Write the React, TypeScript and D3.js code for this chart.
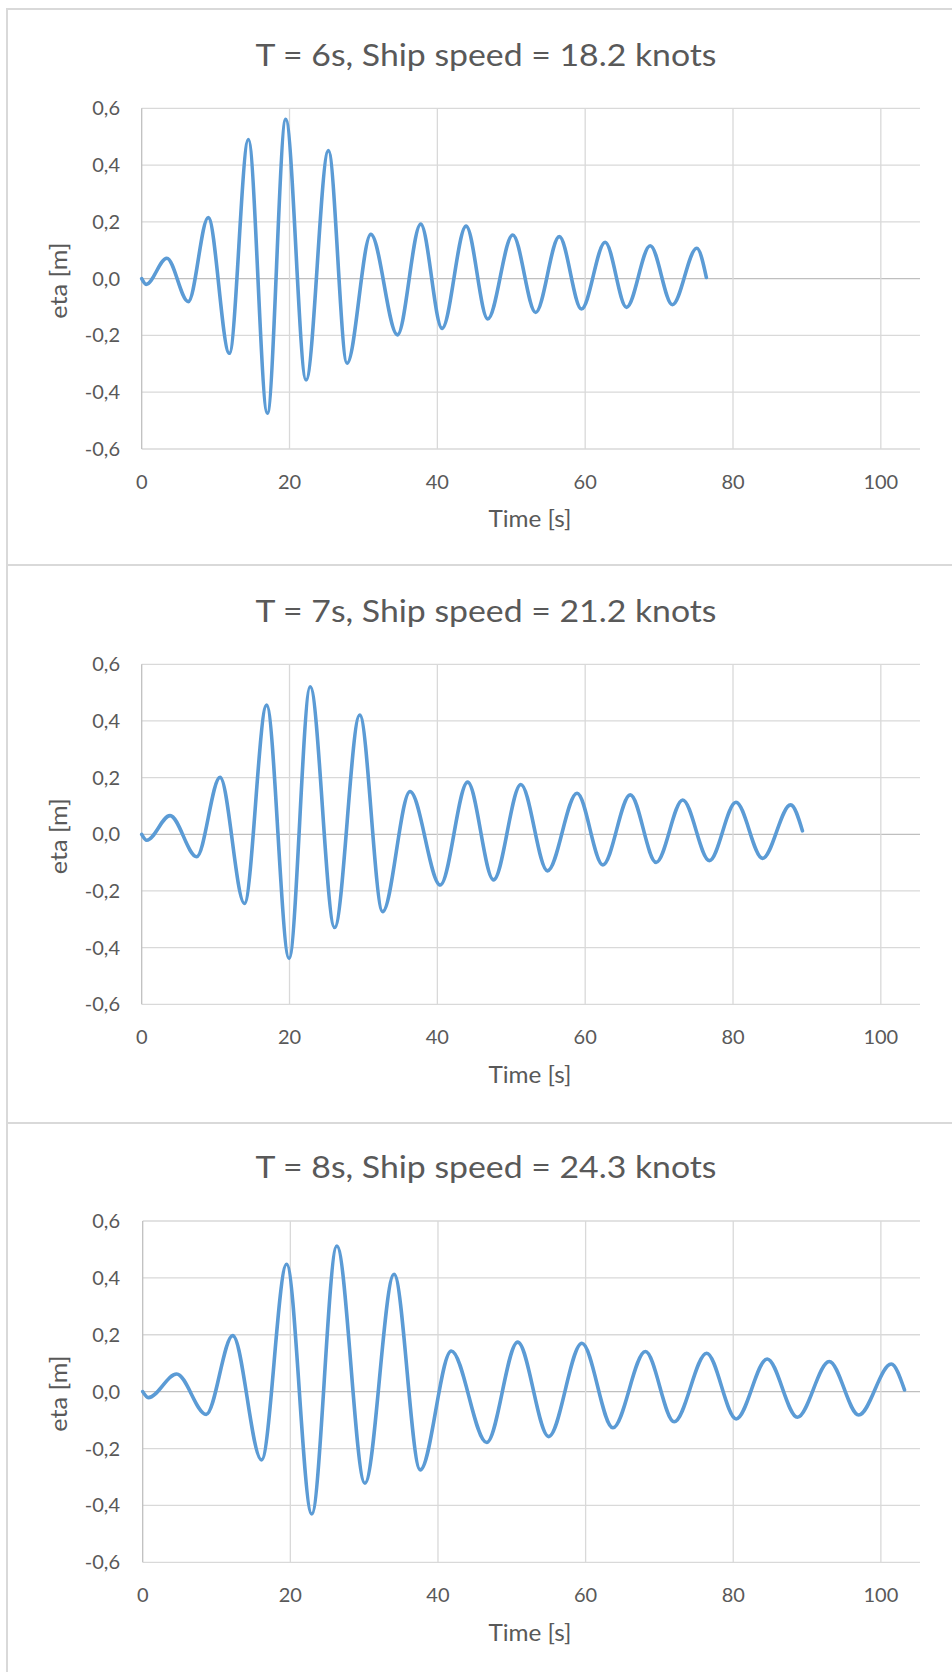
import React from 'react';
import * as d3 from 'd3';

// ---- data ----
const titles = [
  'T = 6s, Ship speed = 18.2 knots',
  'T = 7s, Ship speed = 21.2 knots',
  'T = 8s, Ship speed = 24.3 knots',
];

const time6 = [0, 0.6, 3.4, 6.3, 9.0, 11.86, 14.43, 17.0, 19.49, 22.24, 25.26, 27.78, 31.0, 34.6, 37.75, 40.64, 43.89, 46.82, 50.2, 53.3, 56.5, 59.5, 62.7, 65.6, 68.8, 71.8, 75.1, 76.4];
const eta6 = [0, -0.02, 0.072, -0.081, 0.215, -0.263, 0.49, -0.474, 0.561, -0.357, 0.451, -0.298, 0.156, -0.198, 0.192, -0.175, 0.185, -0.142, 0.154, -0.119, 0.148, -0.107, 0.128, -0.101, 0.116, -0.092, 0.107, 0.004];

const time7 = [0, 0.68, 3.83, 7.44, 10.6, 13.9, 16.9, 19.94, 22.8, 26.1, 29.5, 32.6, 36.3, 40.4, 44.1, 47.6, 51.3, 54.9, 58.9, 62.4, 66.1, 69.6, 73.2, 76.8, 80.4, 84.0, 87.8, 89.4];
const eta7 = [0, -0.021, 0.066, -0.079, 0.201, -0.244, 0.456, -0.438, 0.521, -0.329, 0.421, -0.273, 0.151, -0.179, 0.184, -0.161, 0.176, -0.129, 0.145, -0.108, 0.139, -0.099, 0.121, -0.093, 0.113, -0.085, 0.104, 0.012];

const time8 = [0, 0.76, 4.6, 8.6, 12.2, 16.1, 19.5, 22.9, 26.3, 30.1, 34.05, 37.6, 41.8, 46.6, 50.8, 55.0, 59.5, 63.7, 68.1, 72.0, 76.4, 80.4, 84.6, 88.7, 93.0, 97.0, 101.4, 103.2];
const eta8 = [0, -0.021, 0.062, -0.08, 0.197, -0.24, 0.448, -0.43, 0.512, -0.322, 0.413, -0.275, 0.143, -0.179, 0.174, -0.158, 0.17, -0.127, 0.141, -0.106, 0.135, -0.096, 0.115, -0.09, 0.106, -0.082, 0.097, 0.006];

const xTicks = [0, 20, 40, 60, 80, 100];
const yTicks = [-0.6, -0.4, -0.2, 0, 0.2, 0.4, 0.6];
const xAxisTitle = 'Time [s]';
const yAxisTitle = 'eta [m]';
const xDomain = [0, 105.3];
const yDomain = [-0.6, 0.6];

// ---- layout ----
const W = 952;
const H = 1672;
const layouts = [
  { top: 9, bottom: 565, plotTop: 108.3, plotBottom: 449, plotLeft: 141.7 },
  { top: 565, bottom: 1123, plotTop: 664.3, plotBottom: 1004.3, plotLeft: 141.7 },
  { top: 1123, bottom: 1690, plotTop: 1221, plotBottom: 1562.3, plotLeft: 142.7 },
];
const plotRight = 920;

const FONT = "Lato, 'Open Sans', 'Noto Sans', sans-serif";
const TEXT = '#595959';
const GRID = '#D9D9D9';
const AXIS = '#BFBFBF';
const LINE = '#5B9BD5';

const locale = d3.formatLocale({ decimal: ',', thousands: '.', grouping: [3], currency: ['', ''], minus: '-' });
const fmtY = locale.format('.1f');

function Panel({ idx, times, etas }: { idx: number; times: number[]; etas: number[] }) {
  const L = layouts[idx];
  const x = d3.scaleLinear().domain(xDomain).range([L.plotLeft, plotRight]);
  const y = d3.scaleLinear().domain(yDomain).range([L.plotBottom, L.plotTop]);
  const pts = times.map((t, i) => [t, etas[i]] as [number, number]);
  const line = d3
    .line<[number, number]>()
    .x((d) => x(d[0]))
    .y((d) => y(d[1]))
    .curve(d3.curveMonotoneX);
  const midY = (L.plotTop + L.plotBottom) / 2;
  return (
    <g>
      <rect x={7} y={L.top} width={W + 20} height={L.bottom - L.top} fill="#fff" stroke={GRID} strokeWidth={2} />
      <text
        x={486}
        y={L.plotTop - 42.6}
        textAnchor="middle"
        fontFamily={FONT}
        fontSize={31}
        fill={TEXT}
        textLength={461}
        lengthAdjust="spacingAndGlyphs"
      >
        {titles[idx]}
      </text>
      {yTicks.map((v) => (
        <line
          key={'gy' + v}
          x1={L.plotLeft}
          x2={plotRight}
          y1={y(v)}
          y2={y(v)}
          stroke={v === 0 ? AXIS : GRID}
          strokeWidth={1.3}
        />
      ))}
      {xTicks.map((v) => (
        <line
          key={'gx' + v}
          x1={x(v)}
          x2={x(v)}
          y1={L.plotTop}
          y2={L.plotBottom}
          stroke={v === 0 ? AXIS : GRID}
          strokeWidth={1.3}
        />
      ))}
      {yTicks.map((v) => (
        <text key={'ty' + v} x={120} y={y(v) + 7} textAnchor="end" fontFamily={FONT} fontSize={20} fill={TEXT}>
          {fmtY(v)}
        </text>
      ))}
      {xTicks.map((v) => (
        <text key={'tx' + v} x={x(v)} y={L.plotBottom + 40} textAnchor="middle" fontFamily={FONT} fontSize={20} fill={TEXT}>
          {v}
        </text>
      ))}
      <text
        x={530}
        y={L.plotBottom + 78.3}
        textAnchor="middle"
        fontFamily={FONT}
        fontSize={24}
        fill={TEXT}
        textLength={83}
        lengthAdjust="spacingAndGlyphs"
      >
        {xAxisTitle}
      </text>
      <text
        transform={`translate(66.7,${midY + 2}) rotate(-90)`}
        textAnchor="middle"
        fontFamily={FONT}
        fontSize={24}
        fill={TEXT}
        textLength={76}
        lengthAdjust="spacingAndGlyphs"
      >
        {yAxisTitle}
      </text>
      <path d={line(pts) || ''} fill="none" stroke={LINE} strokeWidth={3.6} strokeLinejoin="round" strokeLinecap="round" />
    </g>
  );
}

export default function App() {
  return (
    <svg
      width={W}
      height={H}
      viewBox={`0 0 ${W} ${H}`}
      style={{ position: 'absolute', left: 0, top: 0, display: 'block', background: '#fff' }}
    >
      <rect x={0} y={0} width={W} height={H} fill="#fff" />
      <Panel idx={0} times={time6} etas={eta6} />
      <Panel idx={1} times={time7} etas={eta7} />
      <Panel idx={2} times={time8} etas={eta8} />
    </svg>
  );
}
